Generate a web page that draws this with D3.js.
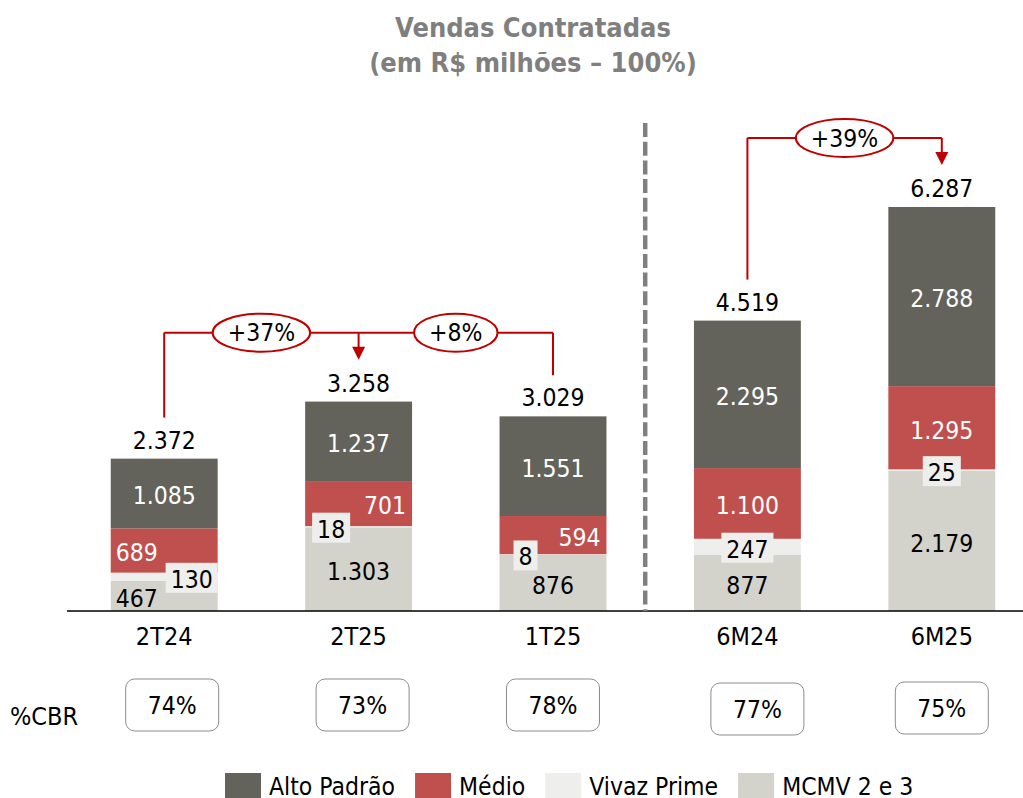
<!DOCTYPE html>
<html>
<head>
<meta charset="utf-8">
<script src="https://cdn.jsdelivr.net/npm/d3@7"></script>
<style>
  body { margin: 0; background: #fff; }
  svg text { font-family: "DejaVu Sans Condensed", "DejaVu Sans", sans-serif; }
</style>
</head>
<body>
<div id="chart"></div>
<script>
// data
var categories = ["2T24", "2T25", "1T25", "6M24", "6M25"];
var seriesNames = ["MCMV 2 e 3", "Vivaz Prime", "Médio", "Alto Padrão"]; // bottom -> top
var mcmv   = [467, 1303, 876, 877, 2179];
var vivaz  = [130, 18, 8, 247, 25];
var medio  = [689, 701, 594, 1100, 1295];
var alto   = [1085, 1237, 1551, 2295, 2788];
var totals = [2372, 3258, 3029, 4519, 6287];
var cbr    = [74, 73, 78, 77, 75];
var legendOrder = ["Alto Padrão", "Médio", "Vivaz Prime", "MCMV 2 e 3"];
var brackets = [
  {from: ["2T24", "1T25"], to: "2T25"},
  {from: ["6M24"], to: "6M25"}
];

// where each segment label sits inside its bar
var labelAlign = {
  "2T24": ["left", "right", "left", "center"],
  "2T25": ["center", "left", "right", "center"],
  "1T25": ["center", "left", "right", "center"],
  "6M24": ["center", "center", "center", "center"],
  "6M25": ["center", "center", "center", "center"]
};
var cbrNudge = {"2T24": [8, 0], "2T25": [4, 0], "1T25": [0, 0], "6M24": [10, 4], "6M25": [0, 3]};

var colors = {
  "Alto Padrão": "#64635b",
  "Médio": "#c0504d",
  "Vivaz Prime": "#eeeeec",
  "MCMV 2 e 3": "#d3d3cb"
};
var textColor = {
  "Alto Padrão": "#fff",
  "Médio": "#fff",
  "Vivaz Prime": "#000",
  "MCMV 2 e 3": "#000"
};
var red = "#c00000";

var width = 1023, height = 798;
var baseY = 611;

var svg = d3.select("#chart").append("svg")
  .attr("width", width)
  .attr("height", height);

// title
var title = svg.append("text")
  .attr("text-anchor", "middle")
  .attr("fill", "#7f7f7f")
  .style("font-weight", "bold")
  .style("font-size", "27px");
title.append("tspan").attr("x", 533).attr("y", 37).text("Vendas Contratadas");
title.append("tspan").attr("x", 533).attr("y", 72).text("(em R$ milhões – 100%)");

var x = d3.scaleBand()
  .domain(categories)
  .range([67, 1039])
  .paddingInner(0.45)
  .paddingOuter(0.225);

var y = d3.scaleLinear()
  .domain([0, d3.max(totals)])
  .range([baseY, 207]);

var rows = categories.map(function(c, i) {
  return {cat: c, "MCMV 2 e 3": mcmv[i], "Vivaz Prime": vivaz[i], "Médio": medio[i], "Alto Padrão": alto[i], total: totals[i]};
});
var stack = d3.stack().keys(seriesNames)(rows);
var fmt = function(v) { return d3.format(",")(v).replace(/,/g, "."); };

// bars
var layers = svg.selectAll("g.layer")
  .data(stack)
  .enter().append("g")
  .attr("class", "layer")
  .attr("fill", function(d) { return colors[d.key]; });

layers.selectAll("rect")
  .data(function(d) { return d; })
  .enter().append("rect")
  .attr("x", function(d) { return x(d.data.cat); })
  .attr("width", x.bandwidth())
  .attr("y", function(d) { return y(d[1]); })
  .attr("height", function(d) { return y(d[0]) - y(d[1]); });

// segment labels
stack.forEach(function(layer, si) {
  var key = layer.key;
  layer.forEach(function(d) {
    var cat = d.data.cat;
    var align = labelAlign[cat][si];
    var x0 = x(cat), x1 = x0 + x.bandwidth();
    var cy = (y(d[0]) + y(d[1])) / 2 + 1;
    var boxed = key == "Vivaz Prime";
    var g = svg.append("g");
    var t = g.append("text")
      .attr("fill", textColor[key])
      .style("font-size", "24.5px")
      .attr("dy", "0.36em")
      .text(fmt(d.data[key]));
    var tx, anchor;
    if (boxed) {
      anchor = "middle";
      if (align == "left") tx = x0 + 26;
      else if (align == "right") tx = x1 - 26;
      else tx = x0 + x.bandwidth() / 2;
    } else if (align == "left") {
      anchor = "start"; tx = x0 + 5;
    } else if (align == "right") {
      anchor = "end"; tx = x1 - 6;
    } else {
      anchor = "middle"; tx = x0 + x.bandwidth() / 2;
    }
    t.attr("x", tx).attr("y", cy + 1).attr("text-anchor", anchor);
    if (boxed) {
      var w = t.node().getComputedTextLength() + 10;
      g.insert("rect", "text")
        .attr("x", tx - w / 2)
        .attr("y", cy - 15)
        .attr("width", w)
        .attr("height", 30)
        .attr("fill", colors[key]);
    }
  });
});

// totals
svg.selectAll("text.total")
  .data(rows)
  .enter().append("text")
  .attr("class", "total")
  .attr("text-anchor", "middle")
  .style("font-size", "24.5px")
  .attr("x", function(d) { return x(d.cat) + x.bandwidth() / 2; })
  .attr("y", function(d) { return y(d.total) - 10; })
  .text(function(d) { return fmt(d.total); });

// baseline + category labels
svg.append("line")
  .attr("x1", 67).attr("x2", width)
  .attr("y1", baseY).attr("y2", baseY)
  .attr("stroke", "#000").attr("stroke-width", 1.5);

svg.selectAll("text.cat")
  .data(categories)
  .enter().append("text")
  .attr("class", "cat")
  .attr("text-anchor", "middle")
  .style("font-size", "25px")
  .attr("x", function(d) { return x(d) + x.bandwidth() / 2; })
  .attr("y", 645)
  .text(function(d) { return d; });

// dashed separator between quarters and semesters
var sepX = (x("1T25") + x.bandwidth() + x("6M24")) / 2 - 5;
svg.append("line")
  .attr("x1", sepX).attr("x2", sepX)
  .attr("y1", 123).attr("y2", baseY)
  .attr("stroke", "#808080")
  .attr("stroke-width", 4.5)
  .attr("stroke-dasharray", "14,4.7");

// growth brackets
var cx = function(c) { return x(c) + x.bandwidth() / 2; };
var topOf = function(c) { return y(totals[categories.indexOf(c)]); };
var valOf = function(c) { return totals[categories.indexOf(c)]; };

brackets.forEach(function(b) {
  var all = b.from.concat([b.to]);
  var by = d3.min(all, topOf) - 69;
  var xs = all.map(cx);
  svg.append("line")
    .attr("x1", d3.min(xs)).attr("x2", d3.max(xs))
    .attr("y1", by).attr("y2", by)
    .attr("stroke", red).attr("stroke-width", 2);
  b.from.forEach(function(f) {
    svg.append("line")
      .attr("x1", cx(f)).attr("x2", cx(f))
      .attr("y1", by).attr("y2", topOf(f) - 41)
      .attr("stroke", red).attr("stroke-width", 2);
  });
  var tip = topOf(b.to) - 42;
  var ax = cx(b.to);
  svg.append("line")
    .attr("x1", ax).attr("x2", ax)
    .attr("y1", by).attr("y2", tip - 12)
    .attr("stroke", red).attr("stroke-width", 2);
  svg.append("path")
    .attr("d", "M" + (ax - 6.5) + "," + (tip - 13) + "L" + (ax + 6.5) + "," + (tip - 13) + "L" + ax + "," + tip + "Z")
    .attr("fill", red);
  b.from.forEach(function(f) {
    var pct = Math.round((valOf(b.to) / valOf(f) - 1) * 100);
    var mx = (cx(f) + ax) / 2;
    var g = svg.append("g");
    var t = g.append("text")
      .attr("x", mx).attr("y", by)
      .attr("dy", "0.36em")
      .attr("text-anchor", "middle")
      .style("font-size", "24.5px")
      .text((pct > 0 ? "+" : "") + pct + "%");
    var w = t.node().getComputedTextLength();
    g.insert("ellipse", "text")
      .attr("cx", mx).attr("cy", by)
      .attr("rx", w / 2 + 15).attr("ry", 19)
      .attr("fill", "#fff")
      .attr("stroke", red).attr("stroke-width", 2);
  });
});

// %CBR row
svg.append("text")
  .attr("x", 10).attr("y", 725)
  .style("font-size", "25px")
  .text("%CBR");

var cbrG = svg.selectAll("g.cbr")
  .data(categories)
  .enter().append("g")
  .attr("class", "cbr")
  .attr("transform", function(d) {
    return "translate(" + (cx(d) + cbrNudge[d][0]) + "," + (705 + cbrNudge[d][1]) + ")";
  });
cbrG.append("rect")
  .attr("x", -46.5).attr("y", -26)
  .attr("width", 93).attr("height", 52)
  .attr("rx", 9)
  .attr("fill", "#fff")
  .attr("stroke", "#8c8c8c")
  .attr("stroke-width", 1);
cbrG.append("text")
  .attr("text-anchor", "middle")
  .attr("dy", "0.36em")
  .style("font-size", "24.5px")
  .text(function(d, i) { return cbr[i] + "%"; });

// legend
var lx = 225;
legendOrder.forEach(function(name) {
  svg.append("rect")
    .attr("x", lx).attr("y", 773)
    .attr("width", 36).attr("height", 25)
    .attr("fill", colors[name]);
  var t = svg.append("text")
    .attr("x", lx + 44).attr("y", 795)
    .style("font-size", "24.5px")
    .text(name);
  lx += 44 + t.node().getComputedTextLength() + 20;
});
</script>
</body>
</html>
